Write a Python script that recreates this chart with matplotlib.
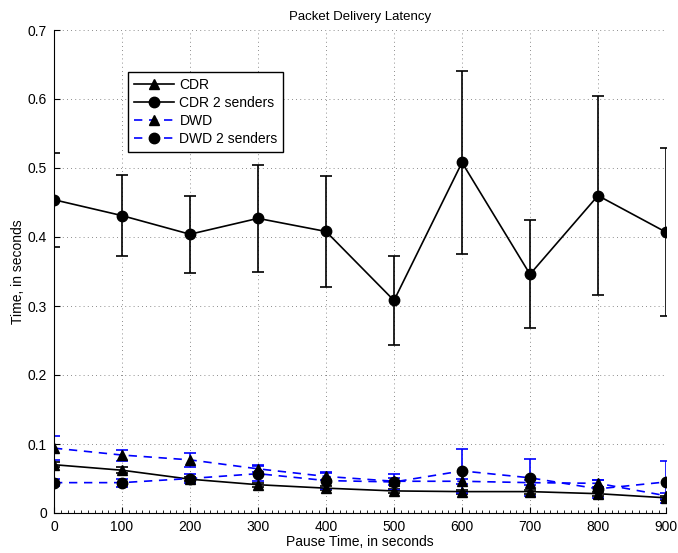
import matplotlib
matplotlib.use("Agg")
import matplotlib.pyplot as plt
from matplotlib.lines import Line2D
from matplotlib.ticker import MultipleLocator, FormatStrFormatter

plt.rcParams["font.family"] = ["Liberation Sans", "DejaVu Sans"]
plt.rcParams["font.size"] = 10

pause = [0, 100, 200, 300, 400, 500, 600, 700, 800, 900]

cdr = [0.070, 0.062, 0.049, 0.041, 0.036, 0.032, 0.031, 0.031, 0.028, 0.022]
cdr_err = [0.004, 0.004, 0.003, 0.003, 0.003, 0.003, 0.003, 0.003, 0.003, 0.003]

cdr2 = [0.454, 0.431, 0.404, 0.427, 0.408, 0.308, 0.508, 0.346, 0.460, 0.407]
cdr2_err = [0.068, 0.059, 0.056, 0.077, 0.081, 0.065, 0.133, 0.078, 0.144, 0.122]

dwd = [0.094, 0.084, 0.077, 0.064, 0.053, 0.046, 0.046, 0.044, 0.043, 0.025]
dwd_err = [0.017, 0.008, 0.010, 0.005, 0.005, 0.005, 0.004, 0.004, 0.005, 0.004]

dwd2 = [0.044, 0.044, 0.050, 0.057, 0.047, 0.045, 0.061, 0.051, 0.035, 0.045]
dwd2_err = [0.005, 0.006, 0.007, 0.011, 0.012, 0.012, 0.032, 0.027, 0.013, 0.031]

labels = ["CDR", "CDR 2 senders", "DWD", "DWD 2 senders"]

fig = plt.figure(figsize=(6.78, 5.53), dpi=100)
ax = fig.add_axes([54 / 678, 40 / 553, 612 / 678, 483 / 553])

common = dict(markersize=7.5, markerfacecolor="black", markeredgecolor="black",
              capsize=4, elinewidth=1.2, capthick=1.2, linewidth=1.2)
blue = "#0000ff"

ax.errorbar(pause, cdr, yerr=cdr_err, fmt="-^", color="black", ecolor="black", **common)
ax.errorbar(pause, cdr2, yerr=cdr2_err, fmt="-o", color="black", ecolor="black", **common)
ax.errorbar(pause, dwd, yerr=dwd_err, fmt="--^", color=blue, ecolor=blue,
            dashes=(5, 4), **common)
ax.errorbar(pause, dwd2, yerr=dwd2_err, fmt="--o", color=blue, ecolor=blue,
            dashes=(5, 4), **common)

ax.set_xlim(0, 900)
ax.set_ylim(0, 0.7)
ax.xaxis.set_major_locator(MultipleLocator(100))
ax.xaxis.set_minor_locator(MultipleLocator(10))
ax.yaxis.set_major_locator(MultipleLocator(0.1))
ax.yaxis.set_major_formatter(FormatStrFormatter("%g"))
ax.tick_params(direction="in", length=4, width=0.8, labelsize=10, pad=5)
ax.tick_params(which="minor", direction="in", length=2, width=0.6)
ax.grid(True, linestyle=(0, (1, 4)), color="black", linewidth=0.6, alpha=0.6)

for side in ("top", "right"):
    ax.spines[side].set_visible(False)

ax.set_title("Packet Delivery Latency", fontsize=9.5, pad=7)
ax.set_xlabel("Pause Time, in seconds", fontsize=10, labelpad=1)
ax.set_ylabel("Time, in seconds", fontsize=10, labelpad=2)

# legend shows plain line + marker, no error bars
handles = [
    Line2D([], [], color="black", linestyle="-", marker="^", markersize=7.5,
           markerfacecolor="black", linewidth=1.2),
    Line2D([], [], color="black", linestyle="-", marker="o", markersize=7.5,
           markerfacecolor="black", linewidth=1.2),
    Line2D([], [], color=blue, linestyle="--", dashes=(5, 4), marker="^", markersize=7.5,
           markerfacecolor="black", markeredgecolor="black", linewidth=1.2),
    Line2D([], [], color=blue, linestyle="--", dashes=(5, 4), marker="o", markersize=7.5,
           markerfacecolor="black", markeredgecolor="black", linewidth=1.2),
]
leg = ax.legend(handles, labels, loc="upper left", bbox_to_anchor=(0.121, 0.913),
                borderaxespad=0, frameon=True, fancybox=False, edgecolor="black",
                framealpha=1, fontsize=10, handlelength=2.9, handletextpad=0.4,
                borderpad=0.4, labelspacing=0.3)
leg.get_frame().set_linewidth(1.0)

fig.savefig("out.png", dpi=100)
